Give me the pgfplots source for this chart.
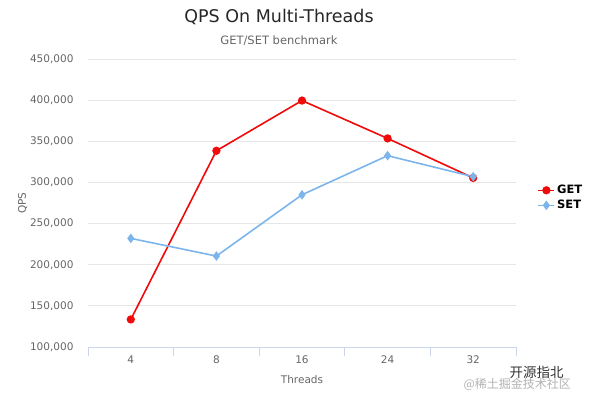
\documentclass[border=0pt]{standalone}
\usepackage{pgfplots}
\pgfplotsset{compat=1.18}
\usepackage{fontspec}
\setmainfont{DejaVu Sans}
\newfontfamily\cjk{Noto Sans CJK SC}
\definecolor{getc}{RGB}{240,10,10}
\definecolor{setc}{RGB}{124,181,236}
\definecolor{gridc}{RGB}{230,230,230}
\definecolor{axisc}{RGB}{204,214,235}
\definecolor{txt}{RGB}{102,102,102}
\begin{document}
\begin{tikzpicture}
\path[use as bounding box] (0pt,0pt) rectangle (600pt,400pt);
\begin{axis}[
  at={(88pt,53pt)}, anchor=south west,
  scale only axis, width=428pt, height=288pt,
  xmin=-0.5, xmax=4.5, ymin=100000, ymax=450000,
  xtick={0,1,2,3,4}, xticklabels={4,8,16,24,32},
  extra x ticks={-0.5,0.5,1.5,2.5,3.5,4.5},
  extra x tick style={tick align=outside, major tick length=9pt, tick style={axisc, line width=0.8pt}, xticklabel=\empty},
  ytick={100000,150000,200000,250000,300000,350000,400000,450000},
  scaled y ticks=false,
  yticklabel style={xshift=-11pt, /pgf/number format/.cd, fixed, 1000 sep={,}, assume math mode=true},
  xticklabel style={yshift=-5pt},
  tick label style={font=\fontsize{10.5}{12}\selectfont, text=txt},
  major tick length=0pt,
  axis x line*=bottom, axis y line*=left,
  x axis line style={axisc, line width=0.8pt, -},
  y axis line style={draw=none},
  ymajorgrids, grid style={gridc, line width=0.8pt},
  xlabel={Threads}, ylabel={QPS},
  label style={font=\fontsize{10.5}{12}\selectfont, text=txt},
  xlabel style={yshift=4pt},
  ylabel style={yshift=-4pt},
  legend style={at={(1.05,0.518)}, anchor=west, draw=none, fill=none,
    font=\fontsize{11.5}{13}\selectfont\bfseries, row sep=1pt, inner sep=0pt},
  legend cell align=left,
  legend image code/.code={\draw[#1] (0pt,0pt) -- (16pt,0pt); \path[#1, mark repeat=1] plot coordinates {(8pt,0pt)};},
  clip=false,
]
\addplot[getc, line width=1.6pt, mark=*, mark size=3.3pt, mark options={fill=getc}]
 coordinates {(0,133500) (1,338500) (2,399500) (3,353500) (4,305500)};
\addlegendentry{GET}
\addplot[setc, line width=1.6pt, mark=diamond*, mark size=3.5pt, mark options={fill=setc}]
 coordinates {(0,232000) (1,210500) (2,285000) (3,332500) (4,307000)};
\addlegendentry{SET}
\end{axis}
\node[font=\fontsize{17.5}{20}\selectfont, text=black!85] at (279pt,383pt) {QPS On Multi-Threads};
\node[font=\fontsize{11.5}{13}\selectfont, text=txt] at (279pt,359pt) {GET/SET benchmark};
\node[font=\cjk\fontsize{13.5}{14}\selectfont, text=black!80, anchor=west] at (506pt,28pt) {开源指北};
\node[font=\cjk\fontsize{12}{13}\selectfont, text=black!30, anchor=west] at (460pt,16pt) {@稀土掘金技术社区};
\end{tikzpicture}
\end{document}
